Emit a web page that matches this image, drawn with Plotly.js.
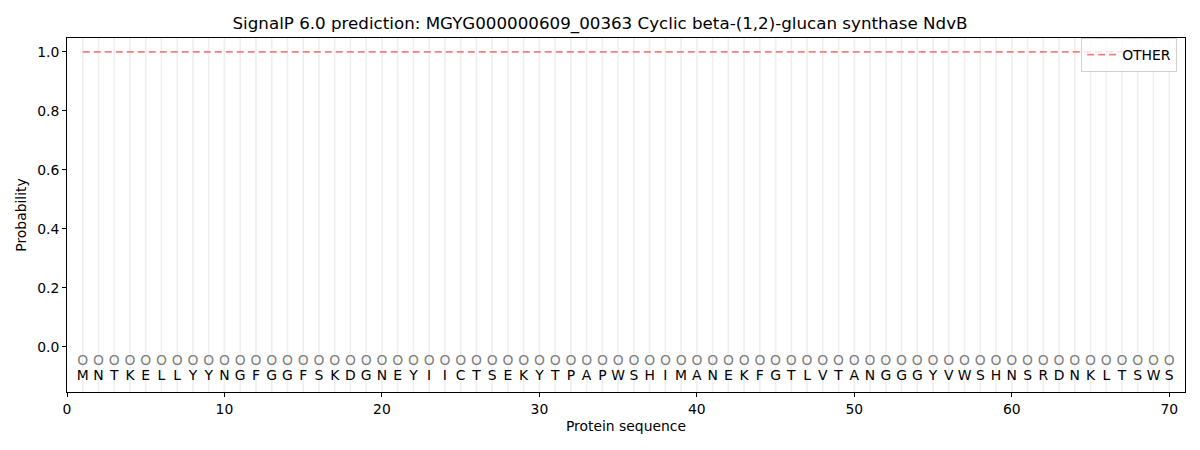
<!DOCTYPE html>
<html>
<head>
<meta charset="utf-8">
<script src="https://cdn.plot.ly/plotly-3.0.1.min.js"></script>
<style>body{margin:0;background:#fff}#c{width:1200px;height:450px}</style>
</head>
<body>
<div id="c"></div>
<script>
const sequence = "MNTKELLYYNGFGGFSKDGNEYIICTSEKYTPAPWSHIMANEKFGTLVTANGGGYVWSHNSRDNKLTSWS".split("");
const positions = sequence.map((_, i) => i + 1);
const otherProb = positions.map(() => 1.0);
const regionLabels = positions.map(() => "O");
const title = "SignalP 6.0 prediction: MGYG000000609_00363 Cyclic beta-(1,2)-glucan synthase NdvB";

const gx = [], gy = [];
positions.forEach(p => { gx.push(p, p, null); gy.push(-0.16, 1.06, null); });

const font = "DejaVu Sans, sans-serif";
const fs = 13.9;
const traces = [
  {x: gx, y: gy, mode: "lines", line: {color: "rgb(238,238,238)", width: 1.6}, hoverinfo: "skip", showlegend: false},
  {x: positions, y: otherProb, mode: "lines", name: "OTHER", line: {color: "#f08080", width: 1.8, dash: "7px,4px"}},
  {x: positions, y: positions.map(() => -0.05), mode: "text", text: regionLabels, textfont: {family: font, size: fs, color: "#808080"}, showlegend: false, hoverinfo: "skip"},
  {x: positions, y: positions.map(() => -0.1), mode: "text", text: sequence, textfont: {family: font, size: fs, color: "#000"}, showlegend: false, hoverinfo: "skip"}
];

const layout = {
  width: 1200, height: 450,
  margin: {l: 67, r: 15, t: 38, b: 58},
  paper_bgcolor: "#fff", plot_bgcolor: "#fff",
  font: {family: font, size: fs, color: "#000"},
  title: {text: title, font: {family: font, size: 16.7, color: "#000"}, x: 0.5, xanchor: "center", y: 0.948, yanchor: "middle", yref: "container"},
  xaxis: {range: [0, 71], tickvals: [0,10,20,30,40,50,60,70], ticks: "outside", ticklen: 4, tickcolor: "#000", tickfont: {size: fs}, showgrid: false, zeroline: false, showline: true, linecolor: "#000", mirror: true, title: {text: "Protein sequence", font: {family: font, size: fs}, standoff: 5}},
  yaxis: {range: [-0.153, 1.047], tickvals: [0,0.2,0.4,0.6,0.8,1.0], ticktext: ["0.0","0.2","0.4","0.6","0.8","1.0"], ticks: "outside", ticklen: 4, tickcolor: "#000", tickfont: {size: fs}, showgrid: false, zeroline: false, showline: true, linecolor: "#000", mirror: true, title: {text: "Probability", font: {family: font, size: fs}, standoff: 7}},
  legend: {x: 0.993, xanchor: "right", y: 1.0, yanchor: "top", bordercolor: "#d0d0d0", borderwidth: 1, bgcolor: "rgba(255,255,255,0.8)", font: {family: font, size: fs}, tracegroupgap: 0}
};
Plotly.newPlot("c", traces, layout, {displayModeBar: false, staticPlot: true});
</script>
</body>
</html>
